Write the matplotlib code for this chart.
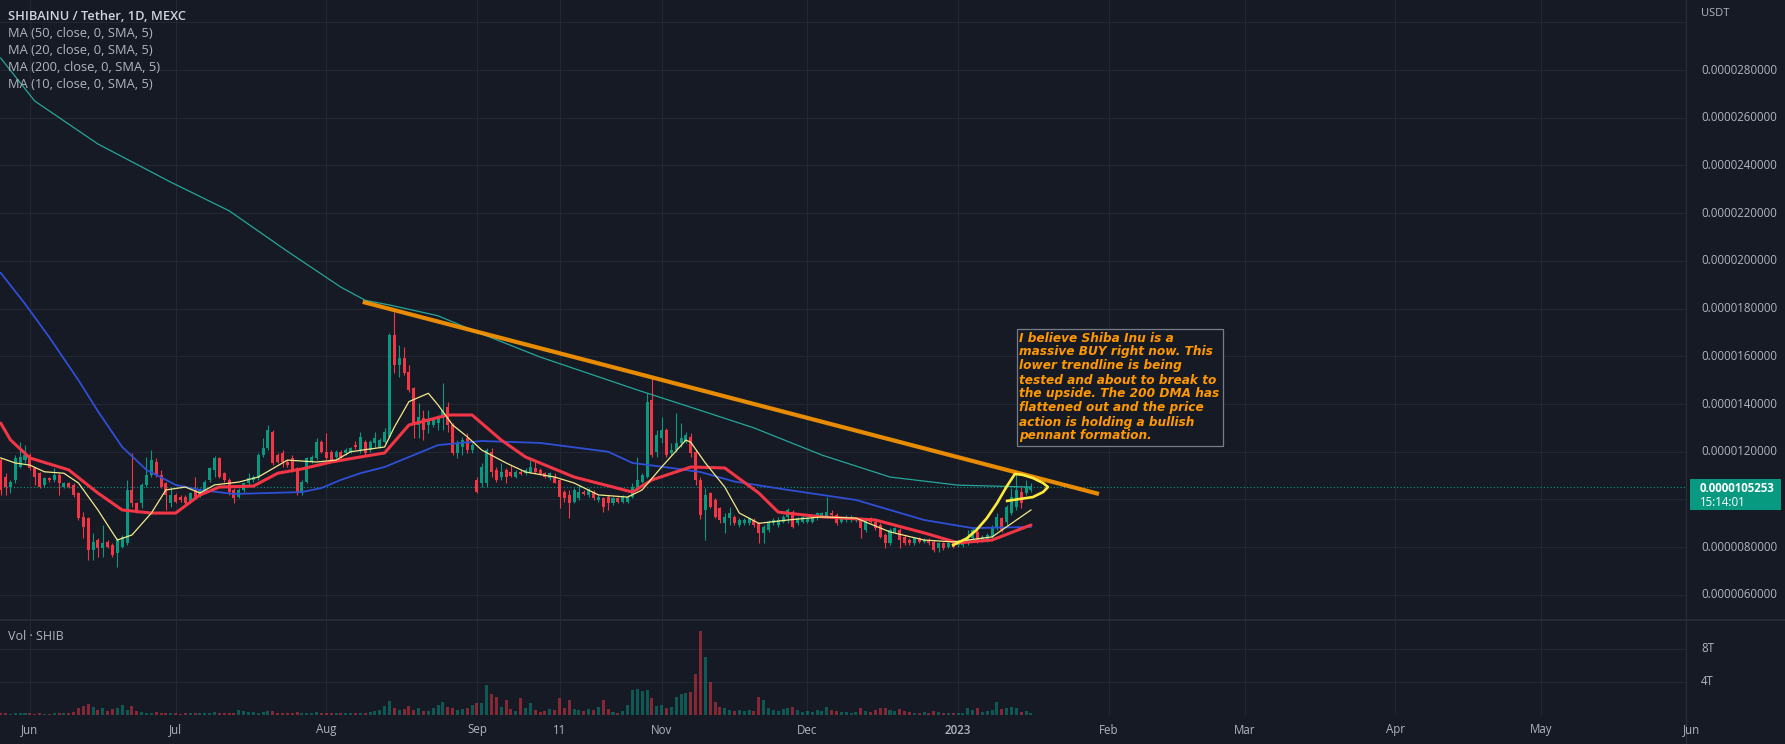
import matplotlib
matplotlib.use("Agg")
import matplotlib.pyplot as plt
import matplotlib.transforms as mtrans
from matplotlib.patches import Rectangle

plt.rcParams['font.family'] = ['Open Sans', 'DejaVu Sans']

# ---------------- data (price in 1e-6 USDT, volume in trillions) ----------------
opens = [
    11.65, 10.96, 10.54, 10.82, 11.37, 11.65, 11.86, 11.30, 11.10, 10.61,
    10.89, 10.82, 11.03, 10.54, 10.68, 10.61, 10.26, 9.28, 9.21, 7.88,
    8.30, 7.95, 8.23, 8.09, 7.74, 8.02, 8.16, 10.40, 9.84, 9.84,
    10.61, 11.03, 11.58, 11.03, 10.68, 9.84, 10.19, 10.12, 10.12, 9.91,
    10.40, 10.19, 10.40, 10.82, 11.23, 11.72, 11.10, 10.82, 10.40, 10.12,
    10.40, 10.68, 10.82, 10.89, 11.86, 12.14, 12.84, 11.86, 11.93, 11.58,
    11.72, 11.30, 10.26, 10.75, 11.58, 11.72, 12.42, 12.00, 12.00, 11.79,
    12.00, 11.93, 12.00, 12.30, 12.07, 12.42, 12.07, 12.35, 12.21, 12.42,
    12.63, 16.89, 15.64, 15.92, 15.36, 14.66, 13.12, 13.40, 13.12, 13.12,
    13.19, 13.40, 13.89, 13.12, 11.93, 12.21, 12.56, 12.07, 10.82, 10.68,
    10.68, 12.00, 11.24, 10.96, 11.24, 11.17, 10.96, 11.17, 11.10, 11.17,
    11.31, 11.24, 11.10, 10.89, 10.96, 10.82, 10.33, 10.19, 9.91, 10.05,
    10.33, 10.19, 10.33, 9.98, 10.05, 10.12, 9.84, 10.05, 9.91, 9.91,
    10.12, 10.47, 10.75, 10.96, 14.17, 12.00, 12.56, 12.91, 11.93, 12.07,
    12.35, 12.42, 12.63, 12.00, 10.82, 9.56, 10.26, 9.98, 9.63, 9.00,
    9.21, 9.28, 8.93, 9.00, 9.00, 9.14, 9.00, 8.58, 8.72, 9.00,
    8.93, 9.07, 9.28, 9.49, 9.00, 9.07, 9.07, 9.07, 9.21, 9.28,
    9.28, 9.42, 9.35, 9.07, 9.14, 9.14, 9.14, 9.21, 8.72, 9.21,
    9.07, 8.93, 8.51, 8.16, 8.65, 8.72, 8.44, 8.30, 8.16, 8.37,
    8.23, 8.30, 8.23, 7.95, 8.16, 8.02, 8.16, 8.09, 8.09, 8.16,
    8.37, 8.65, 8.30, 8.30, 8.44, 8.79, 9.21, 9.07, 9.42, 9.70,
    10.33, 10.26, 10.40]
highs = [
    11.72, 11.10, 10.82, 11.86, 12.42, 12.28, 11.93, 11.37, 11.16, 10.96,
    10.96, 11.30, 11.10, 10.75, 10.75, 10.68, 10.33, 9.49, 9.28, 8.58,
    8.37, 8.93, 8.30, 8.16, 8.37, 8.50, 10.82, 11.93, 9.91, 10.68,
    11.79, 12.07, 11.72, 11.23, 10.75, 10.54, 10.26, 10.19, 10.19, 10.33,
    10.96, 10.47, 10.82, 11.37, 11.82, 11.79, 11.16, 10.89, 10.47, 10.47,
    10.75, 11.10, 11.03, 11.93, 12.56, 13.12, 12.91, 11.93, 12.07, 11.65,
    11.86, 11.37, 10.82, 11.79, 11.86, 12.56, 12.49, 12.77, 12.07, 12.07,
    12.07, 12.14, 12.21, 12.45, 12.84, 12.49, 12.49, 12.84, 12.56, 12.98,
    16.96, 17.87, 16.47, 16.41, 15.64, 14.73, 14.03, 13.75, 13.75, 13.40,
    13.54, 14.87, 14.10, 13.19, 12.49, 12.63, 12.77, 12.35, 10.96, 11.51,
    12.14, 12.14, 11.38, 11.51, 11.30, 11.45, 11.24, 11.24, 11.31, 11.79,
    11.66, 11.31, 11.17, 11.17, 11.10, 10.85, 10.40, 10.40, 10.47, 10.61,
    10.40, 10.47, 10.40, 10.19, 10.12, 10.19, 10.12, 10.12, 10.19, 10.19,
    10.68, 11.79, 11.10, 14.45, 15.08, 12.91, 13.47, 12.98, 12.35, 13.61,
    13.19, 12.84, 12.77, 12.10, 10.96, 10.47, 10.33, 10.05, 9.70, 9.42,
    9.70, 9.35, 9.21, 9.21, 9.28, 9.21, 9.07, 8.93, 9.14, 9.21,
    9.28, 9.35, 9.63, 9.56, 9.28, 9.35, 9.28, 9.35, 9.49, 9.49,
    10.12, 9.56, 9.42, 9.28, 9.35, 9.35, 9.28, 9.28, 9.21, 9.28,
    9.14, 9.00, 8.58, 8.79, 8.86, 8.79, 8.51, 8.37, 8.44, 8.44,
    8.37, 8.37, 8.30, 8.23, 8.23, 8.23, 8.23, 8.30, 8.30, 8.72,
    8.79, 8.72, 8.51, 8.58, 8.93, 9.42, 9.28, 9.76, 10.47, 11.10,
    10.54, 10.82, 10.68]
lows = [
    10.19, 10.19, 10.26, 10.68, 11.30, 11.51, 11.23, 10.61, 10.47, 10.54,
    10.75, 10.75, 10.19, 10.47, 10.47, 10.12, 9.14, 8.37, 7.46, 7.46,
    7.60, 7.60, 7.95, 7.60, 7.18, 7.95, 8.09, 9.70, 9.42, 9.63,
    10.54, 10.96, 10.96, 10.47, 9.56, 9.70, 9.84, 9.91, 9.77, 9.84,
    10.05, 10.12, 10.33, 10.75, 10.96, 10.89, 10.75, 10.19, 9.84, 10.05,
    10.33, 10.61, 10.75, 10.82, 11.79, 12.07, 11.44, 11.51, 11.37, 11.37,
    11.16, 10.19, 10.19, 10.68, 11.51, 11.65, 11.93, 11.65, 11.58, 11.72,
    11.72, 11.86, 11.93, 12.10, 11.93, 11.86, 12.00, 12.21, 12.14, 12.35,
    12.56, 15.29, 15.15, 15.22, 14.52, 12.56, 12.56, 12.49, 12.77, 13.05,
    12.91, 12.91, 12.84, 11.86, 11.72, 11.86, 11.93, 11.93, 10.26, 10.54,
    10.54, 10.96, 10.75, 10.82, 10.68, 10.93, 10.89, 11.03, 11.03, 11.10,
    11.10, 11.03, 10.89, 10.82, 10.68, 9.63, 9.91, 9.21, 9.84, 9.98,
    10.19, 10.12, 9.98, 9.91, 9.49, 9.56, 9.77, 9.84, 9.84, 9.84,
    10.05, 10.40, 10.68, 10.89, 11.79, 11.79, 12.35, 11.79, 11.86, 12.00,
    12.21, 12.35, 11.79, 10.60, 9.20, 8.30, 9.63, 9.21, 9.00, 8.58,
    8.93, 8.93, 8.86, 8.93, 8.93, 8.86, 8.16, 8.16, 8.65, 8.93,
    8.86, 9.00, 9.00, 8.79, 8.93, 9.00, 9.00, 9.00, 9.14, 9.21,
    9.21, 9.28, 8.93, 9.00, 9.07, 9.07, 9.07, 8.37, 8.65, 9.00,
    8.72, 8.37, 7.95, 8.09, 8.58, 7.95, 8.09, 8.09, 8.09, 8.16,
    8.16, 8.09, 7.81, 7.81, 7.88, 7.95, 7.95, 8.02, 8.02, 8.09,
    8.30, 8.16, 8.23, 8.23, 8.37, 8.72, 8.65, 8.93, 9.35, 9.56,
    9.63, 10.19, 10.33]
closes = [
    10.40, 10.54, 10.75, 11.72, 11.79, 11.86, 11.30, 10.96, 10.54, 10.89,
    10.82, 11.03, 10.68, 10.68, 10.54, 10.19, 9.21, 8.86, 7.88, 8.23,
    7.95, 8.16, 8.02, 7.67, 8.30, 8.44, 10.40, 9.84, 9.56, 10.61,
    11.03, 11.65, 11.03, 10.54, 10.19, 10.19, 9.91, 9.98, 9.84, 10.26,
    10.12, 10.40, 10.75, 11.30, 11.72, 10.96, 10.82, 10.33, 10.05, 10.40,
    10.68, 10.89, 10.96, 11.86, 12.14, 12.91, 11.51, 11.58, 11.58, 11.44,
    11.23, 10.26, 10.75, 11.72, 11.79, 12.42, 12.00, 11.72, 11.65, 12.00,
    11.79, 12.07, 12.14, 12.20, 12.63, 11.93, 12.42, 12.56, 12.49, 12.84,
    16.89, 15.64, 15.92, 15.29, 14.59, 13.12, 13.47, 12.91, 13.33, 13.33,
    13.47, 13.75, 13.12, 11.93, 12.35, 12.49, 12.07, 12.28, 10.33, 11.38,
    12.07, 11.17, 10.82, 11.17, 10.96, 11.00, 11.17, 11.05, 11.24, 11.38,
    11.17, 11.05, 10.96, 11.10, 10.70, 10.12, 10.05, 9.84, 10.40, 10.33,
    10.21, 10.40, 10.05, 10.12, 9.70, 9.84, 10.05, 9.91, 10.12, 10.12,
    10.54, 10.82, 11.03, 14.10, 11.86, 12.70, 12.91, 11.86, 12.07, 12.35,
    12.56, 12.70, 11.93, 10.82, 9.35, 10.19, 9.70, 9.28, 9.14, 9.28,
    9.42, 9.00, 9.14, 9.14, 9.21, 8.93, 8.58, 8.86, 9.07, 9.14,
    9.14, 9.28, 9.56, 8.86, 9.21, 9.28, 9.21, 9.28, 9.42, 9.42,
    9.49, 9.35, 9.00, 9.21, 9.28, 9.28, 9.21, 8.79, 9.14, 9.07,
    8.79, 8.44, 8.16, 8.72, 8.79, 8.30, 8.16, 8.16, 8.37, 8.23,
    8.30, 8.16, 7.88, 8.16, 7.95, 8.16, 8.02, 8.23, 8.23, 8.44,
    8.72, 8.23, 8.44, 8.51, 8.86, 9.28, 8.72, 9.70, 10.12, 10.40,
    9.84, 10.54, 10.5253]
volumes = [
    0.20, 0.20, 0.15, 0.20, 0.25, 0.20, 0.20, 0.15, 0.20, 0.15,
    0.15, 0.20, 0.30, 0.20, 0.30, 0.40, 0.90, 1.10, 1.30, 1.00,
    0.60, 0.80, 0.50, 0.70, 0.90, 1.20, 0.60, 1.10, 0.50, 0.40,
    0.30, 0.30, 0.35, 0.25, 0.30, 0.20, 0.20, 0.15, 0.20, 0.20,
    0.25, 0.20, 0.20, 0.30, 0.35, 0.30, 0.30, 0.25, 0.30, 0.60,
    0.50, 0.40, 0.35, 0.30, 0.40, 0.50, 0.45, 0.30, 0.25, 0.20,
    0.25, 0.35, 0.30, 0.30, 0.30, 0.35, 0.30, 0.25, 0.20, 0.20,
    0.25, 0.20, 0.20, 0.25, 0.30, 0.30, 0.40, 0.50, 0.60, 1.10,
    1.70, 0.90, 0.60, 0.70, 1.10, 0.60, 0.80, 0.50, 0.50, 0.90,
    1.20, 1.60, 1.00, 0.80, 0.60, 0.70, 0.80, 1.20, 1.40, 1.50,
    3.60, 2.60, 2.20, 1.00, 1.80, 0.70, 0.50, 2.00, 0.80, 1.50,
    0.60, 0.40, 0.50, 0.70, 0.60, 2.00, 0.80, 1.80, 0.70, 0.60,
    0.50, 0.70, 0.60, 1.00, 1.80, 0.70, 0.40, 0.30, 0.50, 1.20,
    3.00, 3.10, 2.90, 3.00, 2.00, 1.10, 1.20, 0.90, 1.00, 2.20,
    2.60, 2.70, 2.80, 5.00, 10.20, 7.00, 4.00, 1.60, 1.00, 0.80,
    0.60, 0.50, 0.60, 0.50, 0.60, 0.50, 2.20, 1.80, 0.80, 0.60,
    0.50, 0.70, 0.90, 1.00, 0.60, 0.40, 0.50, 0.40, 0.60, 0.50,
    1.00, 0.60, 0.50, 0.40, 0.40, 0.30, 0.40, 0.80, 0.50, 0.40,
    0.60, 0.80, 0.90, 0.60, 0.50, 0.70, 0.50, 0.40, 0.30, 0.30,
    0.40, 0.30, 0.50, 0.40, 0.30, 0.30, 0.30, 0.30, 0.30, 0.80,
    0.60, 0.80, 0.40, 0.50, 0.60, 1.60, 0.70, 0.90, 1.00, 0.80,
    0.40, 0.50, 0.30]

# moving averages (bar index, value)
ma200_idx = [0, 7, 20, 35, 47, 59, 70, 75, 80, 90, 97, 111, 131, 143, 155, 169, 183, 197, 212]
ma200_val = [28.5, 26.7, 24.9, 23.3, 22.1, 20.4, 18.9, 18.35, 18.15, 17.7, 17.1, 15.97, 14.59, 13.8, 13.0, 11.86, 10.94, 10.6, 10.52]
ma50_idx = [0, 5, 10, 16, 20, 25, 30, 36, 41, 48, 62, 66, 70, 74, 79, 90, 99, 111, 125, 130, 138, 144, 151, 162, 176, 190, 200, 212]
ma50_val = [19.5, 18.2, 16.8, 15.0, 13.7, 12.2, 11.24, 10.61, 10.40, 10.23, 10.31, 10.48, 10.82, 11.10, 11.36, 12.28, 12.45, 12.37, 12.00, 11.53, 11.32, 11.15, 10.75, 10.40, 9.98, 9.14, 8.80, 8.85]
ma20_idx = [0, 2, 6, 14, 20, 25, 31, 36, 41, 45, 52, 57, 62, 68, 74, 79, 84, 92, 97, 103, 108, 118, 130, 134, 142, 149, 156, 160, 169, 180, 190, 197, 204, 212]
ma20_val = [13.2, 12.5, 11.74, 11.24, 10.27, 9.56, 9.43, 9.43, 10.19, 10.52, 10.56, 11.10, 11.28, 11.57, 11.78, 11.95, 13.12, 13.54, 13.54, 12.49, 11.78, 10.94, 10.31, 10.82, 11.36, 11.32, 10.27, 9.47, 9.27, 9.14, 8.60, 8.18, 8.30, 8.93]
ma10_idx = [0, 3, 6, 9, 13, 16, 20, 24, 27, 31, 34, 38, 41, 44, 49, 53, 59, 65, 69, 72, 79, 81, 84, 88, 90, 93, 96, 99, 104, 108, 114, 118, 123, 129, 132, 136, 141, 142, 145, 149, 152, 156, 162, 169, 176, 183, 190, 196, 204, 212]
ma10_val = [11.74, 11.53, 11.44, 11.16, 11.10, 10.69, 9.56, 8.30, 8.51, 9.43, 10.40, 10.52, 10.27, 10.61, 10.73, 10.94, 11.65, 11.57, 11.65, 12.00, 12.20, 13.03, 14.10, 14.45, 13.96, 13.12, 12.63, 12.07, 11.53, 11.15, 10.94, 10.69, 10.19, 10.10, 10.40, 11.36, 12.49, 12.40, 11.53, 10.52, 9.43, 9.00, 9.14, 9.27, 9.22, 8.64, 8.30, 8.22, 8.43, 9.56]

# drawings
trend_idx = [74.5, 226]
trend_val = [18.28, 10.23]
pennant_idx = [196.0, 198.8, 200.8, 202.9, 205.0, 207.0, 208.7, 210.4, 212.4, 214.5, 215.5, 214.5, 212.4, 209.7, 207.1]
pennant_val = [8.09, 8.37, 8.72, 9.21, 9.84, 10.54, 11.07, 11.03, 10.90, 10.69, 10.52, 10.31, 10.10, 10.02, 9.94]

note_lines = ["I believe Shiba Inu is a",
              "massive BUY right now. This",
              "lower trendline is being",
              "tested and about to break to",
              "the upside. The 200 DMA has",
              "flattened out and the price",
              "action is holding a bullish",
              "pennant formation."]

month_labels = ["Jun", "Jul", "Aug", "Sep", "11", "Nov", "Dec", "2023", "Feb", "Mar", "Apr", "May", "Jun"]
month_idx = [6, 36, 67, 98, 115, 136, 166, 197, 228, 256, 287, 317, 348]
price_grid = [6, 8, 10, 12, 14, 16, 18, 20, 22, 24, 26, 28, 30]
price_ticks = [6, 8, 12, 14, 16, 18, 20, 22, 24, 26, 28]   # 10 is hidden under the price tag
vol_ticks = [4, 8]
vol_tick_labels = ["4T", "8T"]
last_price = 10.5253

legend_title = "SHIBAINU / Tether, 1D, MEXC"
legend_items = ["MA (50, close, 0, SMA, 5)", "MA (20, close, 0, SMA, 5)",
                "MA (200, close, 0, SMA, 5)", "MA (10, close, 0, SMA, 5)"]

# ---------------- styling ----------------
W, H, DPI = 1785, 744, 100
BG = "#161a25"
GRID = "#232733"
TXT = "#b2b5be"
UP = "#089981"
DOWN = "#f23645"
PLOT_R = 1686

fig = plt.figure(figsize=(W / DPI, H / DPI), dpi=DPI, facecolor=BG)

def fx(px):
    return px / W

def fy(py):
    return 1 - py / H

ax = fig.add_axes([0, fy(620), fx(PLOT_R), 620 / H])
axv = fig.add_axes([0, fy(715), fx(PLOT_R), 95 / H], sharex=ax)
for a in (ax, axv):
    a.set_facecolor(BG)
    for s in a.spines.values():
        s.set_visible(False)
    a.tick_params(left=False, bottom=False, right=False, top=False,
                  labelleft=False, labelbottom=False)

ax.set_xlim(-0.144, 346.8)
ax.set_ylim(4.948, 30.934)
axv.set_ylim(0, 11.515)

# grid
for m in month_idx:
    ax.axvline(m, color=GRID, lw=0.8, zorder=0)
    axv.axvline(m, color=GRID, lw=0.8, zorder=0)
for t in price_grid:
    ax.axhline(t, color=GRID, lw=0.8, zorder=0)
for t in vol_ticks:
    axv.axhline(t, color=GRID, lw=0.8, zorder=0)

n = len(closes)
xs = list(range(n))
cols = [UP if closes[i] >= opens[i] else DOWN for i in xs]

# volume
axv.bar(xs, volumes, width=0.62, color=cols, alpha=0.5, linewidth=0, zorder=2)

# candles
ax.vlines(xs, lows, highs, colors=cols, lw=0.8, zorder=3)
bottoms = [min(opens[i], closes[i]) for i in xs]
heights = [max(abs(closes[i] - opens[i]), 0.03) for i in xs]
ax.bar(xs, heights, bottom=bottoms, width=0.62, color=cols, linewidth=0, zorder=4)

# moving averages
ax.plot(ma200_idx, ma200_val, color="#26a69a", lw=0.9, zorder=5, solid_joinstyle="round")
ax.plot(ma50_idx, ma50_val, color="#2e4fd6", lw=1.3, zorder=5, solid_joinstyle="round")
ax.plot(ma20_idx, ma20_val, color="#f23645", lw=2.2, zorder=6, solid_capstyle="round",
        solid_joinstyle="round")
ax.plot(ma10_idx, ma10_val, color="#f3e98a", lw=0.9, zorder=7, solid_joinstyle="round")

# last price dotted line
ax.axhline(last_price, color=UP, lw=0.8, ls=(0, (1, 2)), zorder=2)

# trendline and pennant drawing
ax.plot(trend_idx, trend_val, color="#ff9800", lw=3.0, alpha=0.9, zorder=8, solid_capstyle="butt")
ax.plot(pennant_idx, pennant_val, color="#ffeb3b", lw=1.9, zorder=9, solid_joinstyle="round")

# annotation box
fig.add_artist(Rectangle((fx(1017), fy(446)), fx(206), 117 / H, transform=fig.transFigure,
                         facecolor=BG, edgecolor="#7c8190", lw=0.9, alpha=0.95, zorder=20))
for i, line in enumerate(note_lines):
    fig.text(fx(1019), fy(338 + 14 * i), line, color="#ff9800", fontsize=8.7,
             family=["DejaVu Sans"], weight="bold", style="italic",
             va="center", ha="left", zorder=21)

# separators
fig.add_artist(plt.Line2D([0, 1], [fy(620), fy(620)], transform=fig.transFigure, color="#2a2e39", lw=1.2))
fig.add_artist(plt.Line2D([fx(PLOT_R), fx(PLOT_R)], [fy(0), fy(744)], transform=fig.transFigure, color="#2a2e39", lw=0.8))

# right price scale
tr_p = mtrans.blended_transform_factory(fig.transFigure, ax.transData)
for t in price_ticks:
    fig.text(fx(1701), t, f"{t * 1e-6:.10f}", transform=tr_p, color=TXT,
             fontsize=8.3, va="center", ha="left")
fig.text(fx(1701), fy(13), "USDT", color=TXT, fontsize=8.0, va="center", ha="left")
tr_v = mtrans.blended_transform_factory(fig.transFigure, axv.transData)
for t, lab in zip(vol_ticks, vol_tick_labels):
    fig.text(fx(1701), t, lab, transform=tr_v, color=TXT, fontsize=8.3, va="center", ha="left")

# last price tag
fig.add_artist(Rectangle((fx(1690), fy(510)), fx(91), 31 / H, transform=fig.transFigure,
                         facecolor=UP, edgecolor="none", zorder=20))
fig.text(fx(1700), fy(488), f"{last_price * 1e-6:.10f}", color="white", fontsize=8.3,
         weight="bold", va="center", ha="left", zorder=21)
fig.text(fx(1700), fy(502), "15:14:01", color="white", fontsize=8.3,
         va="center", ha="left", zorder=21)

# time axis labels
tr_x = mtrans.blended_transform_factory(axv.transData, fig.transFigure)
for m, lab in zip(month_idx, month_labels):
    t = fig.text(m, fy(730), lab, transform=tr_x, color=TXT, fontsize=8.3,
                 va="center", ha="center", weight="semibold" if lab == "2023" else "normal")
    t.set_clip_on(True)
    t.set_clip_box(mtrans.Bbox.from_extents(0, 0, 1700, H))

# legend text
fig.text(fx(8), fy(17), legend_title, color="#d1d4dc", fontsize=9.3, weight="semibold",
         va="center", ha="left")
for i, lab in enumerate(legend_items):
    fig.text(fx(8), fy(33.5 + 17 * i), lab, color=TXT, fontsize=9.3, va="center", ha="left")
fig.text(fx(8), fy(637), "Vol · SHIB", color=TXT, fontsize=9.0, va="center", ha="left")

fig.savefig("out.png", dpi=DPI, facecolor=BG)
